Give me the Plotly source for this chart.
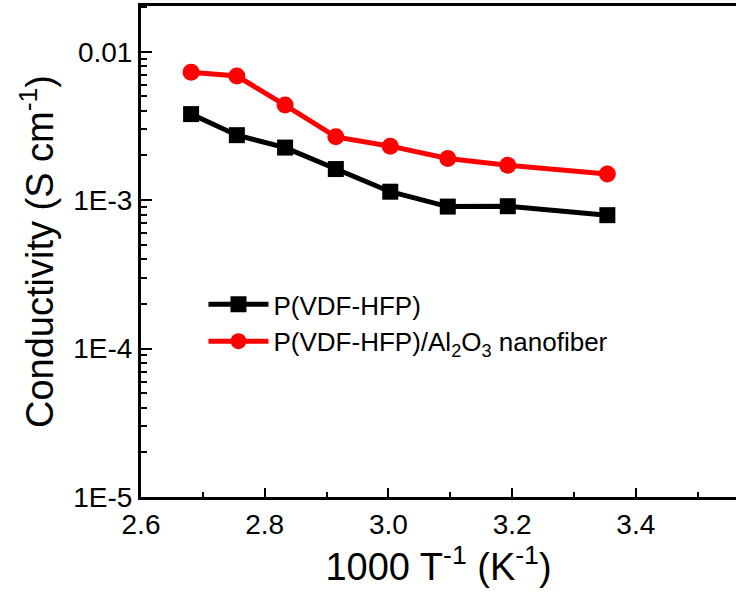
import plotly.graph_objects as go

inv_T = [2.681, 2.755, 2.833, 2.915, 3.003, 3.096, 3.193, 3.354]
cond_pvdf = [0.0038, 0.00274, 0.00226, 0.00162, 0.00114, 0.000905, 0.00091, 0.000792]
cond_al2o3 = [0.00726, 0.00686, 0.00437, 0.00267, 0.00231, 0.00191, 0.00172, 0.00150]

y_tickvals = [1e-5, 1e-4, 1e-3, 1e-2]
y_ticktext = ["1E-5", "1E-4", "1E-3", "0.01"]
y_minor_vals = [m * d for d in [1e-5, 1e-4, 1e-3, 1e-2] for m in range(2, 10)]
x_tickvals = [2.6, 2.8, 3.0, 3.2, 3.4]
x_ticktext = ["2.6", "2.8", "3.0", "3.2", "3.4"]

FONT = "Liberation Sans, Arial, sans-serif"

fig = go.Figure()
fig.add_trace(go.Scatter(
    x=inv_T, y=cond_pvdf, mode="lines+markers", name="P(VDF-HFP)",
    line=dict(color="black", width=5),
    marker=dict(symbol="square", size=16, color="black"),
))
fig.add_trace(go.Scatter(
    x=inv_T, y=cond_al2o3, mode="lines+markers",
    name="P(VDF-HFP)/Al<sub>2</sub>O<sub>3</sub> nanofiber",
    line=dict(color="#ff0000", width=5),
    marker=dict(symbol="circle", size=17, color="#ff0000"),
))

fig.update_layout(
    width=736, height=598,
    margin=dict(l=141, r=0, t=6, b=101),
    plot_bgcolor="white", paper_bgcolor="white",
    font=dict(family=FONT, color="black", size=26),
    showlegend=True,
    legend=dict(
        x=0.105, y=0.44, xanchor="left", yanchor="top",
        bgcolor="rgba(0,0,0,0)", borderwidth=0,
        font=dict(size=26, family=FONT, color="black"),
        itemwidth=60, tracegroupgap=0,
    ),
    xaxis=dict(
        range=[2.6, 3.562],
        tickvals=x_tickvals, ticktext=x_ticktext,
        ticks="inside", ticklen=9, tickwidth=2, tickcolor="black",
        minor=dict(ticks="inside", ticklen=5, tickwidth=2, tickcolor="black",
                   dtick=0.1, tick0=2.6, showgrid=False),
        showline=True, linewidth=3, linecolor="black", mirror=True,
        showgrid=False, zeroline=False,
        tickfont=dict(size=28, family=FONT, color="black"),
        title=dict(text="1000 T<sup>-1</sup> (K<sup>-1</sup>)",
                   font=dict(size=38, family=FONT, color="black"), standoff=8),
    ),
    yaxis=dict(
        type="log", range=[-5, -1.692],
        tickvals=y_tickvals, ticktext=y_ticktext,
        ticks="inside", ticklen=11, tickwidth=2, tickcolor="black",
        minor=dict(ticks="inside", ticklen=6, tickwidth=2, tickcolor="black",
                   tickmode="array", tickvals=y_minor_vals, showgrid=False),
        showline=True, linewidth=3, linecolor="black",
        showgrid=False, zeroline=False,
        tickfont=dict(size=28, family=FONT, color="black"),
        title=dict(text="Conductivity (S cm<sup>-1</sup>)",
                   font=dict(size=38, family=FONT, color="black"), standoff=8),
    ),
)

fig.write_html("out.html")
